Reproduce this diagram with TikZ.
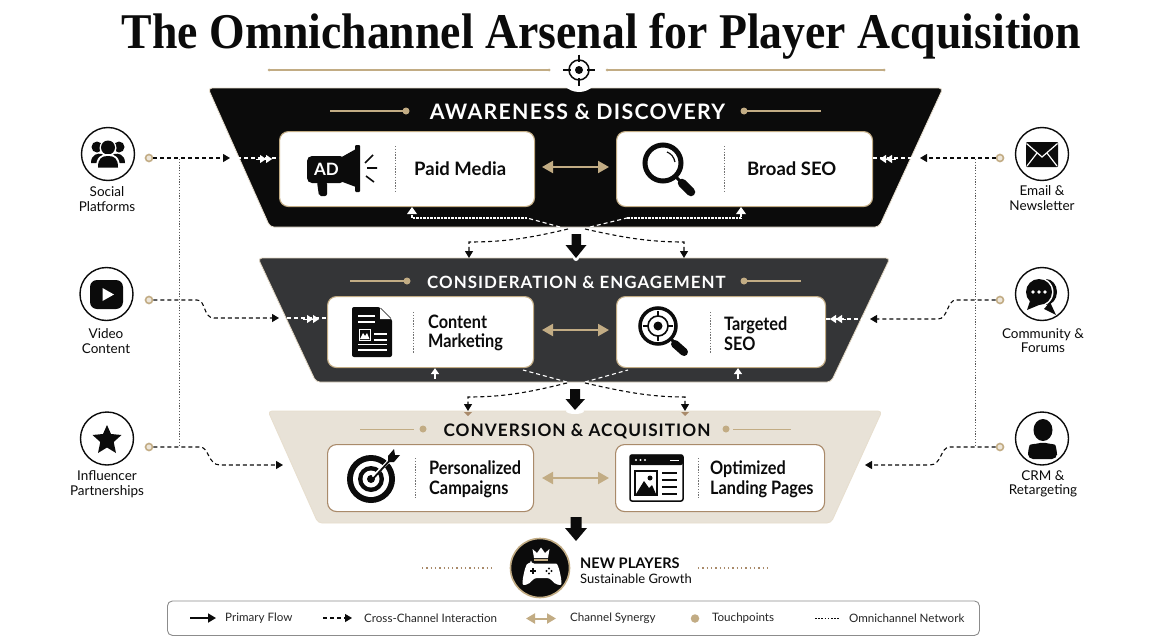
\documentclass[tikz,border=0pt]{standalone}
\usepackage{fontspec}
\setmainfont{Lato}
\newfontfamily\serifttl{Liberation Serif}
\newfontfamily\hdrfont[LetterSpace=6]{Lato}
\newfontfamily\cardnarrow[FakeStretch=0.88]{Lato}
\usetikzlibrary{arrows.meta,calc}
\definecolor{gold}{HTML}{C2AC84}
\definecolor{tanbg}{HTML}{E8E2D7}
\definecolor{ink}{HTML}{0B0B0B}
\definecolor{slate}{HTML}{343537}
\definecolor{rust}{HTML}{A98A6A}
\tikzset{
 funnel/.style={rounded corners=4pt,line width=.8pt},
 cardbox/.style={draw=gold,line width=1.1pt,fill=white,rounded corners=9pt,minimum height=0pt,inner sep=0pt,anchor=north west},
 cardtxt/.style={anchor=west,align=left,font=\bfseries\fontsize{18.5}{20.5}\selectfont,text=ink,inner sep=0pt},
 cardtwo/.style={anchor=west,align=left,font=\cardnarrow\bfseries\fontsize{18.5}{19.8}\selectfont,text=ink,inner sep=0pt},
 hdr/.style={inner sep=0pt},
 lbl/.style={align=center,font=\fontsize{13.5}{14.5}\selectfont,text=ink,inner sep=0pt},
 ringc/.style={circle,draw=ink,line width=1.4pt,minimum size=53pt,inner sep=0pt,fill=white},
 tpoint/.style={circle,draw=gold,line width=1.6pt,fill=white!70!gold,minimum size=7pt,inner sep=0pt},
 golddot/.style={circle,fill=gold,minimum size=7pt,inner sep=0pt},
 bdash/.style={draw=ink,line width=1.1pt,dash pattern=on 4pt off 3pt},
 wdash/.style={draw=white,line width=1.1pt,dash pattern=on 4pt off 3pt},
 wdot/.style={draw=white,line width=1.1pt,dash pattern=on 2.5pt off 1pt},
 btip/.style={-{Triangle[length=7pt,width=8pt]}},
 wtwo/.style={draw=white,line width=.1pt,-{Triangle[length=6pt,width=8pt,fill=white]Triangle[length=6pt,width=8pt,fill=white]}},
 wup/.style={draw=white,line width=1.4pt,-{Triangle[length=6pt,width=8pt,fill=white]}},
 syn/.style={draw=gold,line width=2pt,{Triangle[length=11pt,width=12pt]}-{Triangle[length=11pt,width=12pt]}},
 netw/.style={draw=black!65,line width=.7pt,dash pattern=on 1.2pt off 1.6pt},
 sepdot/.style={draw=black!55,line width=.9pt,dash pattern=on 1.3pt off 1.5pt},
 blockarr/.style={fill=ink,draw=none},
 goldrule/.style={draw=gold,line width=1.6pt},
 leg/.style={anchor=west,inner sep=0pt,font=\fontsize{11.6}{13}\selectfont,text=black!85},
}
\begin{document}
\begin{tikzpicture}[x=1pt,y=-1pt]
\useasboundingbox (0,0) rectangle (1152,640);
\fill[white] (0,0) rectangle (1152,640);

% title
\node[inner sep=0pt,font=\serifttl\bfseries\fontsize{50}{54}\selectfont,text=ink] (title) at (601.5,36.5) {\scalebox{.915}[1]{The Omnichannel Arsenal for Player Acquisition}};

% funnels
\filldraw[funnel,fill=ink,draw=gold!40] (208,88) -- (943,88) -- (879,227) -- (270,227) -- cycle;
\filldraw[funnel,fill=slate,draw=gold!50] (258,258) -- (890,258) -- (831,382) -- (316,382) -- cycle;
\filldraw[funnel,fill=tanbg,draw=gold!40] (268,411) -- (882,411) -- (831,523) -- (318,523) -- cycle;

% top ornament
\fill[white] (579,72) circle (20pt);
\draw[goldrule,line width=1.3pt] (269,70) -- (549,70);
\draw[goldrule,line width=1.3pt] (607,70) -- (884,70);
\fill[gold] (269,70) circle (1.5pt) (549,70) circle (1.5pt) (607,70) circle (1.5pt) (884,70) circle (1.5pt);
\draw[ink,line width=1.5pt] (579,70) circle (10pt);
\draw[ink,line width=1.3pt] (563,70) -- (571,70) (587,70) -- (595,70) (579,54.5) -- (579,62) (579,78) -- (579,85.5);
\fill[ink] (579,70) circle (4pt);

% cards
\node[cardbox,minimum width=255pt,minimum height=75pt] (paid) at (279,131) {};
\node[cardbox,minimum width=256pt,minimum height=75pt] (broad) at (616,131) {};
\node[cardbox,minimum width=206pt,minimum height=71pt] (content) at (327,296) {};
\node[cardbox,minimum width=209pt,minimum height=71pt] (targeted) at (616,296) {};
\node[cardbox,draw=rust,minimum width=206pt,minimum height=67pt] (pers) at (327,444) {};
\node[cardbox,draw=rust,minimum width=209pt,minimum height=67pt] (land) at (615,444) {};

% card separators
\draw[sepdot] (395,146) -- (395,191);
\draw[sepdot] (724,146) -- (724,191);
\draw[sepdot] (413,312) -- (413,353);
\draw[sepdot] (710,312) -- (710,353);
\draw[sepdot] (415,458) -- (415,498);
\draw[sepdot] (698,458) -- (698,498);

% card texts
\node[cardtxt] (t1) at (414,169) {Paid Media};
\node[cardtxt] (t2) at (747,169) {Broad SEO};
\node[cardtwo] (t3) at (428,333) {Content\\Marketing};
\node[cardtwo] (t4) at (724,333.5) {Targeted\\SEO};
\node[cardtwo] (t5) at (429,479.5) {Personalized\\Campaigns};
\node[cardtwo] (t6) at (710,479.5) {Optimized\\Landing Pages};

% headers
\node[hdr,text=white,font=\hdrfont\bfseries\fontsize{21.3}{23}\selectfont] (h1) at (577.5,112) {AWARENESS \& DISCOVERY};
\node[hdr,text=white,font=\hdrfont\bfseries\fontsize{16.9}{20}\selectfont] (h2) at (576.5,282) {CONSIDERATION \& ENGAGEMENT};
\node[hdr,text=ink,font=\hdrfont\bfseries\fontsize{17.2}{20}\selectfont] (h3) at (577,431) {CONVERSION \& ACQUISITION};
\draw[goldrule] (330,111) -- (406,111); \node[golddot] (g1) at (406,111) {};
\draw[goldrule] (744,111) -- (821,111); \node[golddot] (g2) at (744,111) {};
\draw[goldrule] (350,281) -- (407,281); \node[golddot] (g3) at (407,281) {};
\draw[goldrule] (744,281) -- (801,281); \node[golddot] (g4) at (744,281) {};
\draw[goldrule,line width=1pt] (360,429) -- (414,429); \node[golddot] (g5) at (423,429) {};
\draw[goldrule,line width=1pt] (733,429) -- (791,429); \node[golddot] (g6) at (726,429) {};

% synergy
\draw[syn] (542,167) -- (609,167);
\draw[syn] (542,330) -- (609,330);
\draw[syn] (542,478) -- (609,478);

% network verticals
\draw[netw] (179,159) -- (179,447);
\draw[netw] (975,159) -- (975,447);

% left/right rings
\node[ringc] (r1) at (108,154) {};
\node[ringc] (r2) at (106.5,294) {};
\node[ringc] (r3) at (107,438.5) {};
\node[ringc] (r4) at (1042,154) {};
\node[ringc] (r5) at (1042,294) {};
\node[ringc] (r6) at (1042,438.5) {};
\node[lbl] (l1) at (107,199) {Social\\Platforms};
\node[lbl] (l2) at (106,341) {Video\\Content};
\node[lbl] (l3) at (107,484) {Influencer\\Partnerships};
\node[lbl] (l4) at (1042,198) {Email \&\\Newsletter};
\node[lbl] (l5) at (1043,340.5) {Community \&\\Forums};
\node[lbl] (l6) at (1043,484) {CRM \&\\Retargeting};

% touchpoints
\node[tpoint] (p1) at (149,158) {};
\node[tpoint] (p2) at (149,300) {};
\node[tpoint] (p3) at (149,447) {};
\node[tpoint] (p4) at (1000,158) {};
\node[tpoint] (p5) at (1000,300) {};
\node[tpoint] (p6) at (1000,447) {};

% free ends of connectors
\coordinate (a1) at (230,158);
\coordinate (a2) at (279,318);
\coordinate (a3) at (283,465);
\coordinate (a4) at (920,158);
\coordinate (a5) at (870,319);
\coordinate (a6) at (865,465);

% touchpoint connectors
\draw[bdash,btip] (p1.east) -- (a1);
\draw[bdash,btip] (p2.east) -- (197,300) .. controls (206,300) and (203,318) .. (214,318) -- (a2);
\draw[bdash,btip] (p3.east) -- (200,447) .. controls (209,447) and (208,465) .. (220,465) -- (a3);
\draw[bdash,btip] (p4.west) -- (a4);
\draw[bdash,btip] (p5.west) -- (956,300) .. controls (947,300) and (948,319) .. (938,319) -- (a5);
\draw[bdash,btip] (p6.west) -- (950,447) .. controls (940,447) and (942,465) .. (930,465) -- (a6);

% white continuation inside the funnels
\draw[wdash] (237,158) -- (paid.west |- 0,158);
\draw[wtwo] (256,159) -- (272,159);
\draw[wdash] (287,318) -- (content.west |- 0,318);
\draw[wtwo] (303,319) -- (319,319);
\draw[wdash] (broad.east |- 0,158) -- (912,158);
\draw[wtwo] (896,159) -- (880,159);
\draw[wdash] (targeted.east |- 0,319) -- (862,319);
\draw[wtwo] (846,319) -- (830,319);

% links between stages
\coordinate (hub1l) at (560,227);
\coordinate (hub1r) at (590,227);
\coordinate (hub2l) at (567,382);
\coordinate (hub2r) at (585,382);
\draw[wdash] (hub1l) -- (527,218);
\draw[wdot] (527,218) -- (412,218) -- (412,212);
\draw[wdash] (hub1r) -- (627,218);
\draw[wdot] (627,218) -- (741,218) -- (741,212);
\fill[white] (412,207) -- (417,214) -- (407,214) -- cycle;
\fill[white] (741,207) -- (746,214) -- (736,214) -- cycle;
\draw[bdash,btip] (568,229) .. controls (530,238) and (505,242) .. (469,242) -- (469,258);
\draw[bdash,btip] (585,229) .. controls (625,238) and (650,242) .. (684,242) -- (684,258);
\draw[wdash] (hub2l) -- (523,370);
\draw[wdash] (hub2r) -- (628,370);
\draw[bdash,btip] (567,383) .. controls (530,392) and (505,397) .. (468,397) -- (468,411);
\draw[bdash,btip] (585,383) .. controls (625,392) and (650,397) .. (685,397) -- (685,411);
\draw[wup] (435,379) -- (content.south -| 435,0);
\draw[wup] (738,379) -- (targeted.south -| 738,0);
\fill[white] (576,258) circle (3pt);
\fill[white] (575,411) ellipse (9pt and 3pt);
\fill[rust] (464,412) -- (472,412) -- (468,416) -- cycle;
\fill[rust] (681,412) -- (689,412) -- (685,416) -- cycle;

% block arrows
\fill[blockarr] (571.5,234) -- (581,234) -- (581,245) -- (586.5,245) -- (576,258) -- (565.5,245) -- (571.5,245) -- cycle;
\fill[blockarr] (570,389) -- (580,389) -- (580,399) -- (585,399) -- (575,410) -- (565.5,399) -- (570,399) -- cycle;
\fill[blockarr] (570.5,517) -- (581.5,517) -- (581.5,528) -- (587,528) -- (576,541) -- (565,528) -- (570.5,528) -- cycle;

% ---- icons ----
% megaphone
\fill[ink,rounded corners=5pt] (307,156) -- (345,156) -- (345,183) -- (307,183) -- cycle;
\fill[ink] (340,158) -- (356,149) -- (356,187) -- (340,181) -- cycle;
\fill[ink,rounded corners=1pt] (355,145) rectangle (360,192);
\fill[ink,rounded corners=2pt] (317,182) -- (327,182) -- (327,196) -- (319,196) -- cycle;
\node[inner sep=0pt,text=white,font=\bfseries\fontsize{17}{18}\selectfont] (adtxt) at (326.5,169) {AD};
\draw[ink,line width=1.6pt] (365,163) -- (373,155) (367,168) -- (377,168) (366,176) -- (374,182);
% magnifier
\draw[ink,line width=5pt] (663,163) circle (18pt);
\draw[ink,line width=3pt] (676,177) -- (682,183);
\draw[ink,line width=8.5pt,line cap=round] (682,183) -- (691,192);
\draw[ink,line width=1.2pt] (667,152) .. controls (671,153.5) and (674,157) .. (675,162);
% document
\fill[ink,rounded corners=2pt] (352,307) -- (380,307) -- (392,319) -- (392,357) -- (352,357) -- cycle;
\fill[white] (380,308) -- (380,319) -- (391,319) -- cycle;
\draw[white,line width=1.3pt] (358,316) -- (375,316) (358,322) -- (375,322) (374,334) -- (387,334) (374,340) -- (387,340) (358,350) -- (387,350) (358,344.5) -- (387,344.5);
\draw[white,line width=1pt] (359,329) rectangle (370,340);
\fill[white] (360,339) -- (363,333) -- (365,336) -- (367,333) -- (369.5,339) -- cycle;
% target magnifier
\draw[ink,line width=3.5pt] (658,326) circle (18pt);
\draw[ink,line width=1.6pt] (658,326) circle (10pt);
\fill[ink] (658,326) circle (4.5pt);
\draw[ink,line width=1.2pt] (658,311) -- (658,317) (658,335) -- (658,341) (643,326) -- (649,326) (667,326) -- (673,326);
\draw[ink,line width=8pt,line cap=round] (675,344) -- (684,352);
\draw[ink,line width=3pt] (671,339) -- (677,345);
% bullseye
\fill[ink] (371,479) circle (24pt);
\fill[white] (371,479) circle (18pt);
\fill[ink] (371,479) circle (13pt);
\fill[white] (371,479) circle (8.5pt);
\fill[ink] (371,479) circle (4pt);
\draw[white,line width=3.5pt] (373,477) -- (393,457);
\draw[ink,line width=1.8pt] (371,481) -- (392,458);
\fill[ink] (388,456) -- (394,449) -- (395,455) -- (400,455) -- (394,462) -- (388,462) -- cycle;
% landing page
\draw[ink,line width=1.5pt,rounded corners=2pt] (630,455) rectangle (683,501);
\fill[ink,rounded corners=2pt] (630,454.5) rectangle (683,465);
\fill[white] (636,460) circle (1.2pt) (640.5,460) circle (1.2pt) (645,460) circle (1.2pt);
\draw[white,line width=1pt] (670,460) -- (679,460);
\draw[ink,line width=1.2pt] (635,471) rectangle (657,495);
\fill[ink] (636,494) -- (644,481) -- (649,488) -- (652,485) -- (656,494) -- cycle;
\fill[ink] (650,478) circle (2.5pt);
\draw[ink,line width=1.5pt] (662,473) -- (677,473) (662,480) -- (677,480) (662,487) -- (677,487) (662,494) -- (677,494);
% social group
\fill[ink] (97,147) circle (5.5pt) (119,147) circle (5.5pt);
\fill[ink] (91,163) .. controls (91,154) and (98,153) .. (102,154) -- (114,154) .. controls (118,153) and (125,154) .. (125,163) -- cycle;
\fill[white] (108,148) circle (8.5pt);
\fill[ink] (108,147.5) circle (7pt);
\fill[white] (96,168) .. controls (96,157) and (101,154) .. (108,154) .. controls (115,154) and (120,157) .. (120,168) -- cycle;
\fill[ink] (98,167.5) .. controls (98,158) and (102,156) .. (108,156) .. controls (114,156) and (118,158) .. (118,167.5) -- cycle;
% play
\fill[ink,rounded corners=7pt] (90,280) rectangle (123,309);
\fill[white] (102.5,288) -- (114,294.5) -- (102.5,301) -- cycle;
% star
\fill[ink] (107,425) -- (111,434) -- (121.5,435) -- (113.7,442) -- (116,453) -- (107,447.5) -- (98,453) -- (100.3,442) -- (92.5,435) -- (103,434) -- cycle;
% envelope
\fill[ink,rounded corners=1pt] (1026,142) rectangle (1058,167);
\draw[white,line width=1.2pt] (1026.5,143.5) -- (1042,157) -- (1057.5,143.5);
\draw[white,line width=1.2pt] (1027,166) -- (1037,153) (1057,166) -- (1047,153);
% chat
\fill[ink] (1046,292) ellipse (11pt and 13pt);
\fill[ink] (1050,302) -- (1056,315) -- (1044,309) -- cycle;
\fill[white] (1039,292) circle (14.5pt);
\fill[ink] (1039,292) circle (13pt);
\fill[ink] (1030,301) -- (1027,310) -- (1039,305) -- cycle;
\fill[white] (1033,292) circle (1.8pt) (1039,292) circle (1.8pt) (1045,292) circle (1.8pt);
% person
\fill[ink] (1043,430) ellipse (9.5pt and 11pt);
\fill[ink,rounded corners=5pt] (1028,459) -- (1028,450) .. controls (1030,444) and (1036,444) .. (1043,442) .. controls (1050,444) and (1055,444) .. (1057,450) -- (1057,459) -- cycle;

% outcome
\draw[sepdot,draw=rust,dash pattern=on 1.3pt off 3pt,line width=1.1pt] (422,568) -- (495,568);
\draw[sepdot,draw=rust,dash pattern=on 1.3pt off 3pt,line width=1.1pt] (698,568) -- (770,568);
\node[circle,fill=ink,draw=gold,line width=1.6pt,minimum size=59pt,inner sep=0pt] (goal) at (540,568) {};
\fill[white] (534,558) -- (532.5,549) -- (537,553) -- (541,547.5) -- (545,553) -- (549.5,549) -- (548,558) -- cycle;
\fill[gold] (534,558.5) rectangle (548,561);
\fill[white,rounded corners=3pt] (531,563.5) -- (553,563.5) .. controls (558,563.5) and (560,572) .. (561.5,581) .. controls (561.5,586) and (555,585) .. (550,578) -- (534,578) .. controls (529,585) and (522.5,586) .. (522.5,581) .. controls (524,572) and (526,563.5) .. (531,563.5) -- cycle;
\draw[ink,line width=1.1pt] (530,571) -- (536,571) (533,568) -- (533,574);
\fill[ink] (549,568.5) circle (1.1pt) (549,573.5) circle (1.1pt) (546.5,571) circle (1.1pt) (551.5,571) circle (1.1pt);
\node[anchor=west,inner sep=0pt,text=ink,font=\bfseries\fontsize{14.6}{17}\selectfont] (np) at (580,563) {NEW PLAYERS};
\node[anchor=west,inner sep=0pt,text=ink,font=\fontsize{13}{15}\selectfont] (sg) at (580,579) {Sustainable Growth};

% legend
\node[draw=black!45,line width=.9pt,rounded corners=5pt,fill=white,minimum width=812pt,minimum height=34.5pt,inner sep=0pt,anchor=north west] (legend) at (167,600.5) {};
\coordinate (k1a) at (190,618); \coordinate (k1b) at (216,618);
\draw[ink,line width=1.7pt,-{Triangle[length=8pt,width=9pt]}] (k1a) -- (k1b);
\node[leg] (k1) at (225,618.5) {Primary Flow};
\coordinate (k2a) at (323,618); \coordinate (k2b) at (352,618);
\draw[bdash,btip] (k2a) -- (k2b);
\node[leg] (k2) at (364,618.5) {Cross-Channel Interaction};
\coordinate (k3a) at (526,618.5); \coordinate (k3b) at (556,618.5);
\draw[syn,{Triangle[length=9pt,width=10pt]}-{Triangle[length=9pt,width=10pt]}] (k3a) -- (k3b);
\node[leg] (k3) at (570,618.5) {Channel Synergy};
\node[golddot,minimum size=8.5pt] (k4d) at (695,618.5) {};
\node[leg] (k4) at (712,618.5) {Touchpoints};
\coordinate (k5a) at (815,618); \coordinate (k5b) at (840,618);
\draw[ink,line width=.9pt,dash pattern=on 1.5pt off 1.7pt] (k5a) -- (k5b);
\node[leg] (k5) at (849,618.5) {Omnichannel Network};
\end{tikzpicture}
\end{document}
